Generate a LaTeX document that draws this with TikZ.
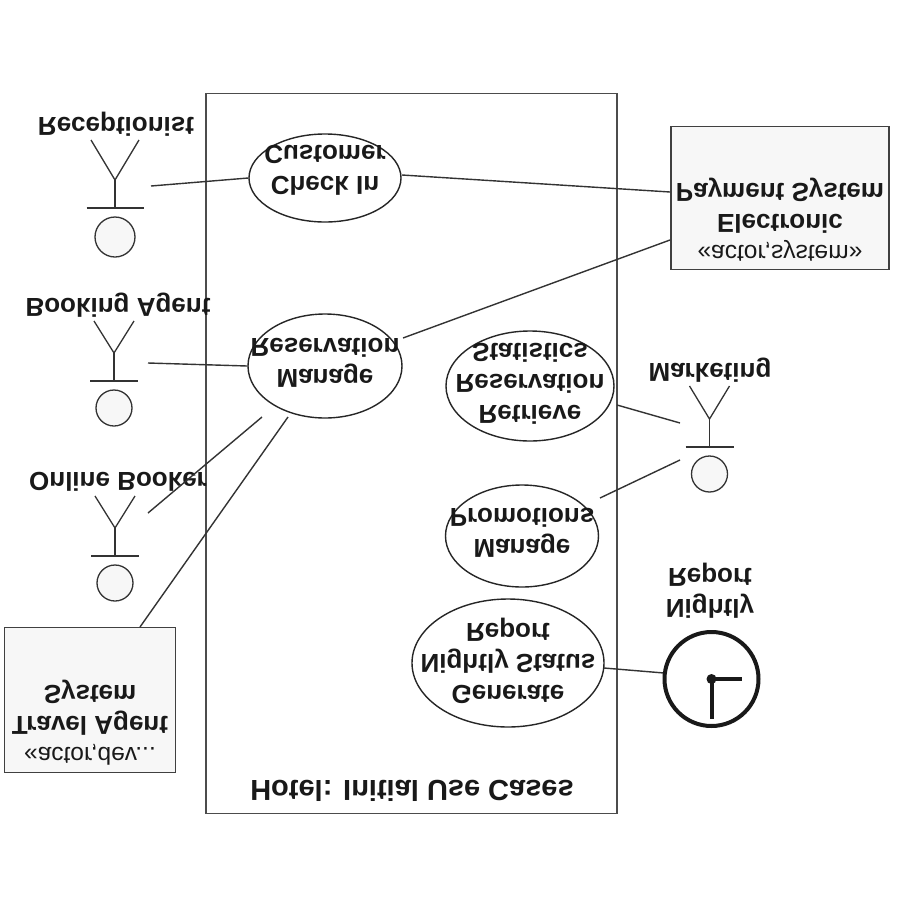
\documentclass[tikz,border=0pt]{standalone}
\usepackage{fontspec}
\setmainfont{Liberation Sans}
\usetikzlibrary{shapes.geometric}
\newcommand{\stereo}[1]{{\fontsize{24.5pt}{31pt}\selectfont\mdseries #1}}
\tikzset{
  line/.style={draw=black!80,line width=1.4pt},
  uc/.style={ellipse,draw=black!85,line width=1.4pt,fill=white,minimum width=#1,inner sep=0pt},
  lbl/.style={font=\fontsize{26pt}{31pt}\selectfont\bfseries,text=black!90,align=center,inner sep=0pt,yscale=-1},
  actorbox/.style={draw=black!75,line width=1.5pt,fill=black!3,inner sep=0pt},
  stick/.style={draw=black!80,line width=1.3pt,fill=none}
}
% x, y of the junction, arm half-width, arm height, bar half-width, head radius
\newcommand{\stickman}[6]{%
  \draw[stick] (#1-#3,#2-#4) -- (#1,#2) -- (#1+#3,#2-#4);
  \draw[stick] (#1,#2) -- (#1,#2+28);
  \draw[stick] (#1-#5,#2+28) -- (#1+#5,#2+28);
  \draw[stick,fill=black!3] (#1,#2+37+#6) circle (#6);
}
\begin{document}
\begin{tikzpicture}[x=1pt,y=-1pt]
\useasboundingbox (0,0) rectangle (900,900);
\fill[white] (0,0) rectangle (900,900);
\node[draw=black!70,line width=1.6pt,minimum width=411pt,minimum height=720pt,anchor=north west,inner sep=0pt] (frame) at (205.3,92.5) {};
\node[lbl,font=\fontsize{29pt}{33pt}\selectfont\bfseries] (framelabel) at (412,791) {Hotel: Initial Use Cases};

\node[actorbox,minimum width=218pt,minimum height=143pt] (pay) at (780,198) {};
\node[lbl] (paytxt) at (780,220) {\stereo{«actor,system»}\\Electronic\\Payment System};
\node[actorbox,minimum width=171pt,minimum height=145pt] (travel) at (90,700) {};
\node[lbl] (traveltxt) at (90,723) {\stereo{«actor,dev...}\\Travel Agent\\System};

\node[uc=152pt,minimum height=88pt] (checkin) at (325,178) {};
\node[lbl] (checkintxt) at (325,170) {Check In\\Customer};
\node[uc=154pt,minimum height=104pt] (manage) at (325,366) {};
\node[lbl] (managetxt) at (325,363) {Manage\\Reservation};
\node[uc=168pt,minimum height=110pt] (retrieve) at (530,386) {};
\node[lbl] (retrievetxt) at (530,384) {Retrieve\\Reservation\\Statistics};
\node[uc=153pt,minimum height=102pt] (promo) at (522,536) {};
\node[lbl] (promotxt) at (522,533) {Manage\\Promotions};
\node[uc=192pt,minimum height=128pt] (status) at (508,663) {};
\node[lbl] (statustxt) at (508,661) {Generate\\Nightly Status\\Report};

\stickman{115}{180}{24}{40}{28.5}{20}
\node[lbl] (a1) at (116,124) {Receptionist};
\stickman{114}{353}{20}{32}{24}{18}
\node[lbl] (a2) at (118,305) {Booking Agent};
\stickman{115}{528}{20}{32}{24}{18}
\node[lbl] (a3) at (118,482) {Online Booker};
\stickman{709.5}{419}{20}{33}{24}{18}
\node[lbl] (a4) at (710,370) {Marketing};

\coordinate (a1e) at (151,186);
\coordinate (a2e) at (148,363);
\coordinate (a3e) at (148,513);
\coordinate (a3f) at (262,417);
\coordinate (a4a) at (680,423);
\coordinate (a4b) at (680,460);
\coordinate (tr1) at (140,627);
\coordinate (tr2) at (288,417);
\coordinate (pe) at (670,192);
\coordinate (pf) at (670,240);
\coordinate (ma) at (403,338);
\coordinate (ca) at (402,175);
\coordinate (ret) at (617,405);
\coordinate (pro) at (600,498);
\coordinate (st) at (604,668);
\coordinate (cl) at (664,673);

\draw[line] (a1e) -- (checkin.west);
\draw[line] (ca) -- (pe);
\draw[line] (a2e) -- (manage.west);
\draw[line] (ma) -- (pf);
\draw[line] (a3e) -- (a3f);
\draw[line] (tr1) -- (tr2);
\draw[line] (ret) -- (a4a);
\draw[line] (pro) -- (a4b);
\draw[line] (st) -- (cl);

\node[circle,draw=black!90,line width=4pt,fill=white,minimum size=94pt,inner sep=0pt] (clock) at (711.5,679) {};
\draw[line width=4pt,black!90] (clock.center) -- ++(30,0);
\draw[line width=4pt,black!90] (clock.center) -- ++(0,40);
\fill[black!90] (clock.center) circle (5);
\node[lbl] (clocklbl) at (710,591) {Nightly\\Report};
\end{tikzpicture}
\end{document}
